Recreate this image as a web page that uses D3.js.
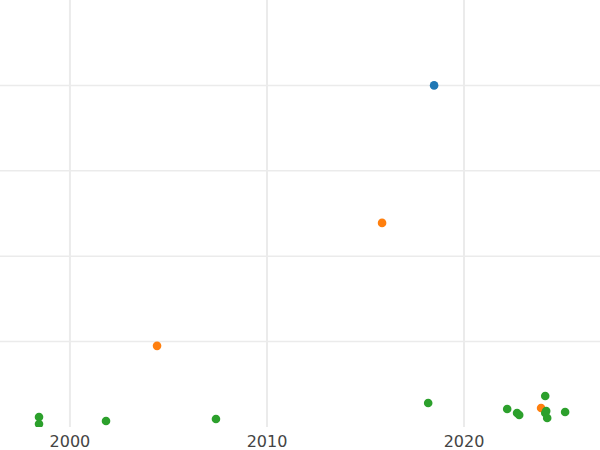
<!DOCTYPE html>
<html><head><meta charset="utf-8">
<script src="https://cdn.jsdelivr.net/npm/d3@7"></script>
<style>body{margin:0;background:#fff}</style>
</head><body>
<svg id="c" width="600" height="450"></svg>
<script>
// data
var years  = [2018.48, 2015.84, 2004.42, 2023.91, 2024.12, 2024.17, 2024.22, 2025.13, 2022.69, 2022.80, 2022.19, 2018.18, 2007.41, 2001.83, 1998.43, 1998.43, 2024.12];
var values = [4.0, 2.39, 0.95, 0.222, 0.363, 0.187, 0.105, 0.176, 0.164, 0.14, 0.211, 0.281, 0.094, 0.07, 0.117, 0.035, 0.164];
var groups = ['a', 'b', 'b', 'b', 'c', 'c', 'c', 'c', 'c', 'c', 'c', 'c', 'c', 'c', 'c', 'c', 'c'];
var xTicks = [2000, 2010, 2020];
var yTicks = [1, 2, 3, 4];

var svg = d3.select('#c');
var plotH = 427;
var x = d3.scaleLinear().domain([1996.45, 2026.9]).range([0, 600]);
var y = d3.scaleLinear().domain([0, 5]).range([plotH, 0]);
var color = d3.scaleOrdinal().domain(['a', 'b', 'c']).range(['#1f77b4', '#ff7f0e', '#2ca02c']);

svg.append('defs').append('clipPath').attr('id', 'clip')
    .append('rect').attr('width', 600).attr('height', plotH);

var g = svg.append('g').attr('clip-path', 'url(#clip)');

g.selectAll('.vg').data(xTicks).enter().append('line')
    .attr('x1', x).attr('x2', x).attr('y1', 0).attr('y2', plotH)
    .attr('stroke', '#ebebeb').attr('stroke-width', 2);
g.selectAll('.hg').data(yTicks).enter().append('line')
    .attr('x1', 0).attr('x2', 600).attr('y1', y).attr('y2', y)
    .attr('stroke', '#ebebeb').attr('stroke-width', 1.5);

g.selectAll('circle').data(years).enter().append('circle')
    .attr('cx', function(d) { return x(d); })
    .attr('cy', function(d, i) { return y(values[i]); })
    .attr('r', 4.3)
    .attr('fill', function(d, i) { return color(groups[i]); });

svg.selectAll('.xl').data(xTicks).enter().append('text')
    .attr('x', x).attr('y', 447).attr('text-anchor', 'middle')
    .attr('font-family', 'DejaVu Sans').attr('font-size', 16).attr('fill', '#444')
    .text(function(d) { return d; });
</script>
</body></html>
